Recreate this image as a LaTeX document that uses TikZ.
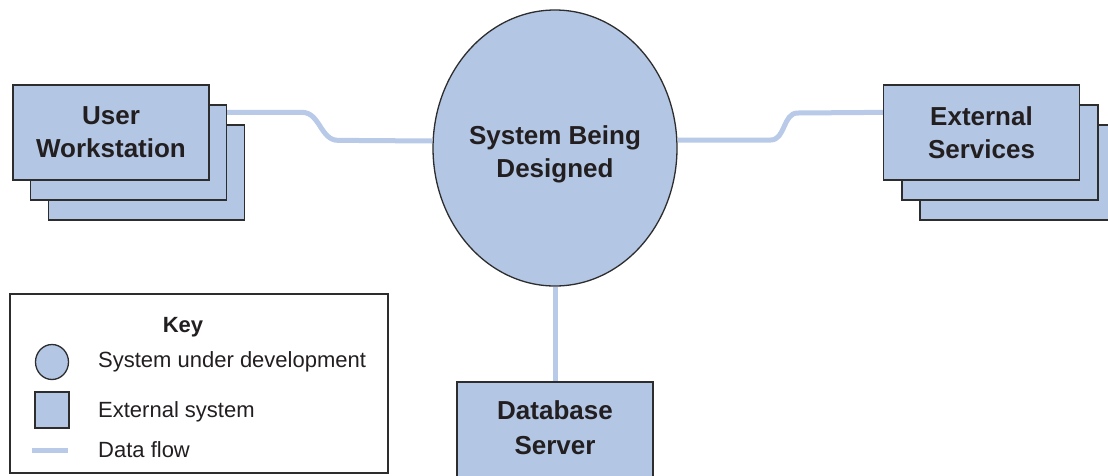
\documentclass[tikz,border=0pt]{standalone}
\usepackage{fontspec}
\setmainfont{Liberation Sans}
\usetikzlibrary{shapes.geometric,calc}
\definecolor{boxfill}{RGB}{179,198,228}
\definecolor{flowcol}{RGB}{184,202,232}
\definecolor{edge}{RGB}{45,45,45}
\definecolor{txt}{RGB}{35,31,32}
\tikzset{
  ext/.style={draw=edge, line width=1.3pt, fill=boxfill, minimum width=196pt, minimum height=95pt, inner sep=0pt, text=txt, align=center, font=\bfseries\fontsize{26}{33}\selectfont},
  sysnode/.style={ellipse, draw=edge, line width=1.3pt, fill=boxfill, minimum width=244pt, minimum height=276pt, inner sep=0pt},
  bigtext/.style={text=txt, align=center, inner sep=0pt, font=\bfseries\fontsize{26}{33}\selectfont},
  flow/.style={draw=flowcol, line width=5pt},
  keybox/.style={draw=edge, line width=1.3pt, fill=white, minimum width=378pt, minimum height=179pt, inner sep=0pt},
  keytext/.style={anchor=west, text=txt, inner sep=0pt, font=\fontsize{22}{26}\selectfont},
}
\begin{document}
\begin{tikzpicture}[x=1pt,y=-1pt]
\useasboundingbox (0,0) rectangle (1108,475);
\clip (0,0) rectangle (1108,475);
\fill[white] (0,0) rectangle (1108,475);
% central system
\node[sysnode] (sys) at (555,148) {};
\node[bigtext] (syst) at (555,154) {System Being\\Designed};
% user workstation stack
\node[ext] (ws3) at (146.5,172.5) {};
\node[ext] (ws2) at (128.5,152.5) {};
\node[ext] (ws1) at (111,132.5) {User\\Workstation};
% external services stack
\node[ext] (es3) at (1018,172.5) {};
\node[ext] (es2) at (1000,152.5) {};
\node[ext] (es1) at (981.5,132.5) {External\\Services};
% database
\node[ext, minimum height=100pt] (db) at (555,432) {};
\node[bigtext, font=\bfseries\fontsize{26}{35}\selectfont] (dbt) at (555,427.5) {Database\\Server};
% flows
\draw[flow] ($(ws2.north east)+(0,8)$) -- ++(75,0) to[out=0,in=180] ++(36,28) -- ($(sys.west)+(0,-7)$);
\draw[flow] ($(sys.east)+(0,-8)$) -- ++(93,0) to[out=0,in=180] ++(27,-27) -- ($(es1.north west)+(0,28)$);
\draw[flow] (sys.south) -- (db.north);
% key
\node[keybox] (key) at (199,383.5) {};
\node[text=txt, inner sep=0pt, font=\bfseries\fontsize{22}{26}\selectfont] (keyt) at (183,327) {Key};
\node[ellipse, draw=edge, line width=1.3pt, fill=boxfill, minimum width=33pt, minimum height=35pt, inner sep=0pt] (kc) at (52,362) {};
\node[draw=edge, line width=1.3pt, fill=boxfill, minimum width=34pt, minimum height=36pt, inner sep=0pt] (ks) at (52,410) {};
\coordinate (kla) at (32,450);
\coordinate (klb) at (68,450);
\draw[flow] (kla) -- (klb);
\node[keytext] (t1) at (98,362) {System under development};
\node[keytext] (t2) at (98,412) {External system};
\node[keytext] (t3) at (98,450) {Data flow};
\end{tikzpicture}
\end{document}
